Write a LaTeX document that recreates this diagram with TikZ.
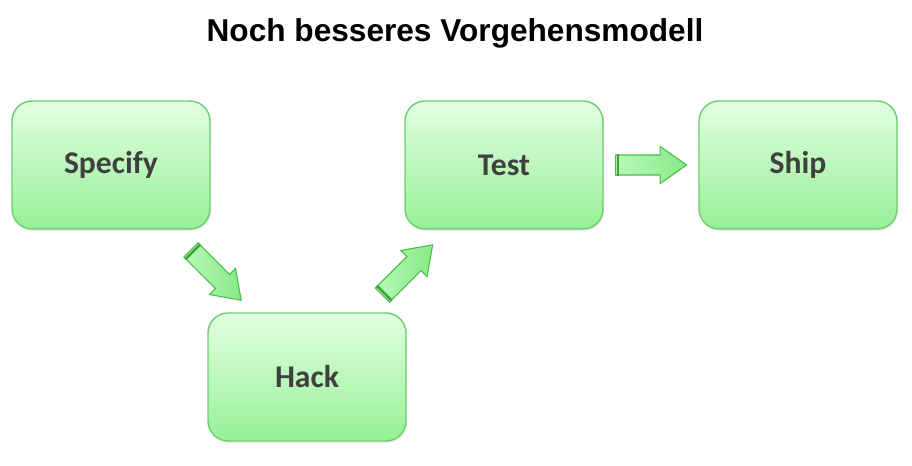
\documentclass[tikz,border=0pt]{standalone}
\usepackage{fontspec}
\setmainfont{Carlito}
\newfontfamily\titlefont{Liberation Sans}
\usetikzlibrary{shapes.arrows,calc,shadows}

\definecolor{boxtop}{RGB}{226,255,226}
\definecolor{boxbottom}{RGB}{150,240,150}
\definecolor{boxline}{RGB}{110,205,110}
\definecolor{arrowtop}{RGB}{185,248,185}
\definecolor{arrowfill}{RGB}{135,234,135}
\definecolor{arrowline}{RGB}{70,190,70}
\definecolor{labeltext}{RGB}{64,64,64}

\begin{document}
\begin{tikzpicture}[x=0.02cm,y=-0.02cm,
        phase node/.style={rectangle,rounded corners=0.4cm,draw=boxline,line width=0.8pt,
          top color=boxtop,bottom color=boxbottom,minimum width=3.96cm,minimum height=2.56cm,
          font=\fontsize{18}{22}\selectfont\bfseries,text=labeltext,
          drop shadow={opacity=0.2,shadow xshift=0.6pt,shadow yshift=-1pt}},
        flow arrow/.style={single arrow,draw=arrowline,left color=arrowtop,right color=arrowfill,
          line width=0.6pt,inner sep=0.19cm,minimum height=1.42cm,minimum width=0.72cm,
          single arrow head extend=0.17cm,single arrow tip angle=70},
        tail mark/.style={draw=arrowline!85!black,line width=1.4pt}]
        \useasboundingbox (0,0) rectangle (912,466);
        \node[font=\titlefont\fontsize{18}{22}\selectfont\bfseries] (title) at (455,33) {Noch besseres Vorgehensmodell};
        \node[phase node] (specify) at (111,165) {Specify};
        \node[phase node] (hack) at (307,377) {Hack};
        \node[phase node] (test) at (504,165) {Test};
        \node[phase node] (ship) at (798,165) {Ship};
        \node[flow arrow,rotate=-45] (a1) at ($(specify.south east)!0.5!(hack.north west)+(2,-1)$) {};
        \node[flow arrow,rotate=45] (a2) at ($(hack.north east)!0.5!(test.south west)+(-3,4)$) {};
        \node[flow arrow] (a3) at ($(test.east)!0.5!(ship.west)+(-7,0)$) {};
        \foreach \a in {a1,a2,a3}
          \draw[tail mark] ($(\a.before tail)!0.07!(\a.after head)$) -- ($(\a.after tail)!0.07!(\a.before head)$);
\end{tikzpicture}
\end{document}
